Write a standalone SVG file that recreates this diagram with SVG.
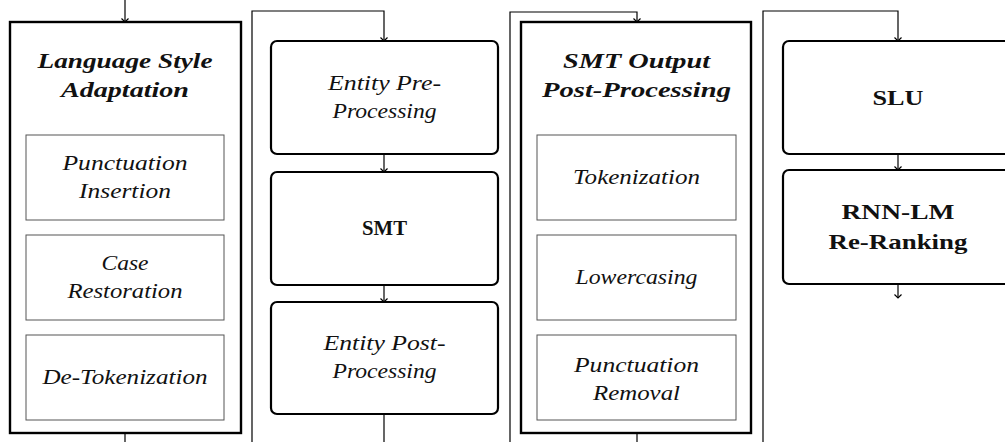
<svg xmlns="http://www.w3.org/2000/svg" width="1005" height="442" viewBox="0 0 1005 442">
<style>
.outer{fill:#fff;stroke:#000;stroke-width:2.4}
.inner{fill:#fff;stroke:#555;stroke-width:1}
.rbox{fill:#fff;stroke:#000;stroke-width:2.2}
.conn{fill:none;stroke:#000;stroke-width:1.2}
.t{font-family:"Liberation Serif",serif;font-size:21px;text-anchor:middle;fill:#111}
.it{font-style:italic}
.bf{font-weight:bold}
.title{font-size:22px;font-weight:bold;font-style:italic}
</style>
<defs>
<marker id="arr" markerUnits="userSpaceOnUse" markerWidth="10" markerHeight="10" viewBox="-5 -5 10 10" refX="0" refY="0" orient="auto">
<path d="M-3.5,-3.5 Q-0.8,-0.8 0,0 Q-0.8,0.8 -3.5,3.5" fill="none" stroke="#000" stroke-width="1.2"/>
</marker>
</defs>
<rect width="1005" height="442" fill="#fff"/>
<g id="connectors">
<path class="conn" d="M125,0 V22" marker-end="url(#arr)"/>
<path class="conn" d="M125,433 V442"/>
<path class="conn" d="M252,442 V11 H384 V41" marker-end="url(#arr)"/>
<path class="conn" d="M384,154 V172" marker-end="url(#arr)"/>
<path class="conn" d="M384,285 V302" marker-end="url(#arr)"/>
<path class="conn" d="M384,414 V442"/>
<path class="conn" d="M510,442 V12 H637 V22" marker-end="url(#arr)"/>
<path class="conn" d="M637,433 V442"/>
<path class="conn" d="M763,442 V11 H898 V41" marker-end="url(#arr)"/>
<path class="conn" d="M898,154 V170" marker-end="url(#arr)"/>
<path class="conn" d="M898,284 V298" marker-end="url(#arr)"/>
</g>
<g id="language-style-adaptation">
<rect class="outer" x="10" y="22" width="231" height="411"/>
<text class="t title" x="125" y="68" textLength="175" lengthAdjust="spacingAndGlyphs">Language Style</text>
<text class="t title" x="125" y="97" textLength="128" lengthAdjust="spacingAndGlyphs">Adaptation</text>
</g>
<g id="punctuation-insertion">
<rect class="inner" x="26" y="135" width="198" height="85"/>
<text class="t it" x="125" y="170" textLength="125" lengthAdjust="spacingAndGlyphs">Punctuation</text>
<text class="t it" x="125" y="198" textLength="92" lengthAdjust="spacingAndGlyphs">Insertion</text>
</g>
<g id="case-restoration">
<rect class="inner" x="26" y="235" width="198" height="85"/>
<text class="t it" x="125" y="270" textLength="47" lengthAdjust="spacingAndGlyphs">Case</text>
<text class="t it" x="125" y="298" textLength="115" lengthAdjust="spacingAndGlyphs">Restoration</text>
</g>
<g id="de-tokenization">
<rect class="inner" x="26" y="335" width="198" height="85"/>
<text class="t it" x="125" y="384" textLength="165" lengthAdjust="spacingAndGlyphs">De-Tokenization</text>
</g>
<g id="entity-pre-processing">
<rect class="rbox" x="271" y="41" width="227" height="113" rx="6"/>
<text class="t it" x="384.5" y="90" textLength="113" lengthAdjust="spacingAndGlyphs">Entity Pre-</text>
<text class="t it" x="384.5" y="118" textLength="104" lengthAdjust="spacingAndGlyphs">Processing</text>
</g>
<g id="smt">
<rect class="rbox" x="271" y="172" width="227" height="113" rx="6"/>
<text class="t bf" x="384.5" y="235" textLength="45" lengthAdjust="spacingAndGlyphs">SMT</text>
</g>
<g id="entity-post-processing">
<rect class="rbox" x="271" y="302" width="227" height="112" rx="6"/>
<text class="t it" x="384.5" y="350" textLength="122" lengthAdjust="spacingAndGlyphs">Entity Post-</text>
<text class="t it" x="384.5" y="378" textLength="104" lengthAdjust="spacingAndGlyphs">Processing</text>
</g>
<g id="smt-output-post-processing">
<rect class="outer" x="521" y="22" width="230" height="411"/>
<text class="t title" x="636.5" y="68" textLength="147" lengthAdjust="spacingAndGlyphs">SMT Output</text>
<text class="t title" x="636.5" y="97" textLength="189" lengthAdjust="spacingAndGlyphs">Post-Processing</text>
</g>
<g id="tokenization">
<rect class="inner" x="537" y="135" width="199" height="85"/>
<text class="t it" x="636.5" y="184" textLength="127" lengthAdjust="spacingAndGlyphs">Tokenization</text>
</g>
<g id="lowercasing">
<rect class="inner" x="537" y="235" width="199" height="85"/>
<text class="t it" x="636.5" y="284" textLength="122" lengthAdjust="spacingAndGlyphs">Lowercasing</text>
</g>
<g id="punctuation-removal">
<rect class="inner" x="537" y="335" width="199" height="85"/>
<text class="t it" x="636.5" y="372" textLength="125" lengthAdjust="spacingAndGlyphs">Punctuation</text>
<text class="t it" x="636.5" y="400" textLength="87" lengthAdjust="spacingAndGlyphs">Removal</text>
</g>
<g id="slu">
<rect class="rbox" x="783" y="41" width="230" height="113" rx="6"/>
<text class="t bf" x="898" y="105" textLength="51" lengthAdjust="spacingAndGlyphs">SLU</text>
</g>
<g id="rnn-lm-re-ranking">
<rect class="rbox" x="783" y="170" width="230" height="114" rx="6"/>
<text class="t bf" x="898" y="219" textLength="113" lengthAdjust="spacingAndGlyphs">RNN-LM</text>
<text class="t bf" x="898" y="249" textLength="139" lengthAdjust="spacingAndGlyphs">Re-Ranking</text>
</g>
</svg>
